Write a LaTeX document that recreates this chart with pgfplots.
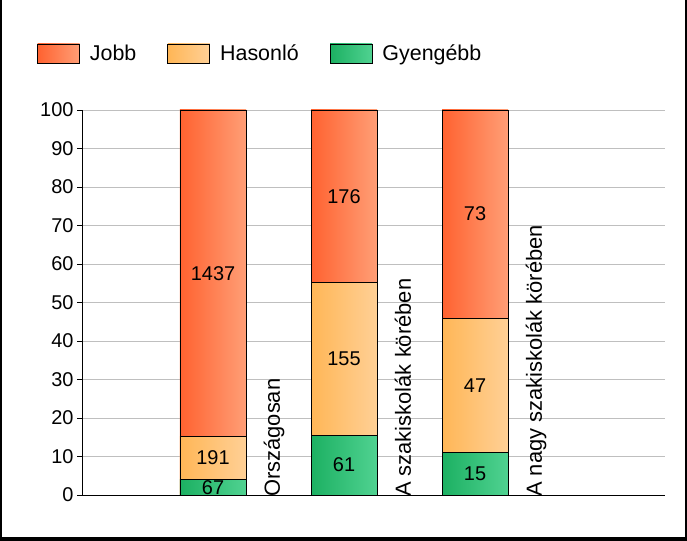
\documentclass[border=0pt]{standalone}
\usepackage{fontspec}
\setmainfont{Liberation Sans}
\usepackage{pgfplots}
\usepackage{pgfplotstable}
\pgfplotsset{compat=1.18}

\definecolor{jobbL}{RGB}{255,98,48}
\definecolor{jobbR}{RGB}{255,158,118}
\definecolor{hasL}{RGB}{255,182,86}
\definecolor{hasR}{RGB}{255,208,150}
\definecolor{gyeL}{RGB}{28,176,98}
\definecolor{gyeR}{RGB}{80,210,145}

% counts shown in the bars, placed at the middle of each segment (percent)
\pgfplotstableread{
x y lab
1 57.611 1437
1 9.587 191
1 1.977 67
2 77.551 176
2 35.332 155
2 7.781 61
3 72.963 73
3 28.519 47
3 5.556 15
}\labels

\pgfplotsset{
  seg/.style 2 args={
    ybar, bar width=0.504, bar shift=0pt,
    draw=black, line width=0.75bp, left color=#1, right color=#2,
    legend image code/.code={\draw[##1] (0bp,-9.5bp) rectangle (42bp,9.5bp);},
  },
}

\begin{document}
\begin{tikzpicture}
\useasboundingbox (0,0) rectangle (687bp,541bp);
\fill[white] (0,0) rectangle (687bp,541bp);
\fill[black] (0,0) rectangle (2bp,541bp);
\fill[black] (685bp,0) rectangle (687bp,541bp);
\fill[black] (0,0) rectangle (687bp,4bp);
\begin{axis}[
  at={(82bp,46bp)}, anchor=south west,
  scale only axis, width=583bp, height=385bp,
  font=\fontsize{20}{24}\selectfont,
  /pgf/number format/assume math mode=true,
  xmin=0, xmax=4.45, ymin=0, ymax=100,
  enlargelimits=false,
  clip marker paths=true,
  axis x line*=bottom, axis y line*=left,
  axis line style={-, black, line width=0.75bp},
  ytick={0,10,...,100},
  ymajorgrids, major grid style={draw=black!25, line width=0.75bp},
  tick align=outside, major tick length=5bp,
  ytick style={black, line width=0.75bp},
  xtick={1.511,2.511,3.511},
  xticklabels={Országosan, A szakiskolák körében, A nagy szakiskolák körében},
  xtick style={draw=none},
  x tick label style={rotate=90, anchor=base west, inner xsep=3bp,
    font=\fontsize{22}{26}\selectfont},
  legend columns=-1,
  legend style={at={(0,1)}, anchor=west, xshift=-45bp, yshift=56.5bp,
    draw=none, fill=none, inner sep=0pt, nodes={inner sep=0pt},
    font=\fontsize{21.5}{25}\selectfont,
    /tikz/every odd column/.append style={column sep=10bp},
    /tikz/every even column/.append style={column sep=31bp}},
]
% cumulative tops of the segments, tallest first so the lower ones lie on top
\addplot[seg={jobbL}{jobbR}] coordinates {(1,100)};
\addlegendentry{Jobb}
\addplot[seg={hasL}{hasR}] coordinates {(1,15.221)};
\addlegendentry{Hasonló}
\addplot[seg={gyeL}{gyeR}] coordinates {(1,3.953)};
\addlegendentry{Gyengébb}
\addplot[seg={jobbL}{jobbR}, forget plot] coordinates {(2,100)};
\addplot[seg={hasL}{hasR}, forget plot] coordinates {(2,55.102)};
\addplot[seg={gyeL}{gyeR}, forget plot] coordinates {(2,15.561)};
\addplot[seg={jobbL}{jobbR}, forget plot] coordinates {(3,100)};
\addplot[seg={hasL}{hasR}, forget plot] coordinates {(3,45.926)};
\addplot[seg={gyeL}{gyeR}, forget plot] coordinates {(3,11.111)};

\addplot[draw=none, mark=none, forget plot,
  point meta=explicit symbolic,
  nodes near coords={\pgfplotspointmeta},
  every node near coord/.style={anchor=center, text=black, inner sep=0pt,
    font=\fontsize{20}{24}\selectfont}]
  table[x=x, y=y, meta=lab] {\labels};
\end{axis}
\end{tikzpicture}
\end{document}
